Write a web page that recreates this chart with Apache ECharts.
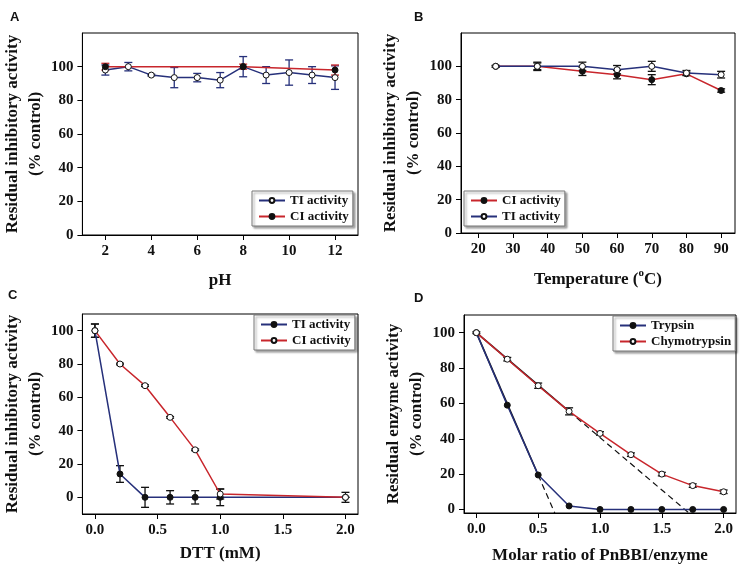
<!DOCTYPE html>
<html><head><meta charset="utf-8">
<script src="https://cdn.jsdelivr.net/npm/echarts@6/dist/echarts.min.js"></script>
<style>html,body{margin:0;padding:0;background:#fff}#c{width:746px;height:572px}</style>
</head><body><div id="c"></div>
<script>
// ---------- Panel A: pH ----------
const phX = [2, 3, 4, 5, 6, 7, 8, 9, 10, 11, 12];
const tiPH = [98, 100, 95, 93.5, 93.5, 92, 100, 95, 96.5, 95, 93.5];
const tiPHErr = [3, 2.5, 0.5, 6, 2.5, 4.5, 6, 5, 7.5, 5, 7];
const ciPHX = [2, 8, 12];
const ciPH = [100, 100, 98];
const ciPHErr = [2, 1.5, 3];
const phTicks = [2, 4, 6, 8, 10, 12];

// ---------- Panel B: Temperature ----------
const tempX = [25, 37, 50, 60, 70, 80, 90];
const tiT = [100, 100, 100, 98, 100, 96, 95];
const tiTErr = [0.5, 2, 2.5, 2.5, 3, 1.5, 2];
const ciT = [100, 100, 97, 95, 92, 95.5, 85.5];
const ciTErr = [0.5, 2.5, 2.5, 2.5, 3, 1, 1];
const tempTicks = [20, 30, 40, 50, 60, 70, 80, 90];

// ---------- Panel C: DTT ----------
const dttX = [0, 0.2, 0.4, 0.6, 0.8, 1.0, 2.0];
const tiDTT = [100, 14, 0, 0, 0, 0, 0];
const tiDTTErr = [4, 5, 6, 4, 4, 5, 0];
const ciDTT = [100, 80, 67, 48, 28.5, 2, 0];
const ciDTTErr = [4, 0.5, 0.5, 0.5, 0.5, 3, 3];
const dttTicks = [0, 0.5, 1.0, 1.5, 2.0];

// ---------- Panel D: Molar ratio ----------
const ratioX = [0, 0.25, 0.5, 0.75, 1.0, 1.25, 1.5, 1.75, 2.0];
const trypsin = [100, 59, 19.5, 2, 0, 0, 0, 0, 0];
const chymo = [100, 85, 70, 55.5, 43, 31, 20, 13.5, 10];
const chymoErr = [0.5, 1, 1.5, 2, 1, 1, 1, 1, 1];
const trypsinFitX = [0, 0.5, 0.634];
const trypsinFitY = [100, 19.5, -2];
const chymoFitX = [0, 0.75, 1.72];
const chymoFitY = [100, 55.5, -2];
const ratioTicks = [0, 0.5, 1.0, 1.5, 2.0];

const yTicks = [0, 20, 40, 60, 80, 100];

const SERIF = 'Liberation Serif';
const NAVY = '#26307a';
const RED = '#c8262c';
const BLACK = '#111';

const pts = (xs, ys) => xs.map((x, i) => [x, ys[i]]);

function errBars(xs, ys, errs, idx, color) {
  return {
    type: 'custom', xAxisIndex: idx, yAxisIndex: idx, z: 1, silent: true,
    data: xs.map((x, i) => [x, ys[i] - errs[i], ys[i] + errs[i]]),
    renderItem: function (params, api) {
      const x = api.value(0), lo = api.value(1), hi = api.value(2);
      const a = api.coord([x, hi]), b = api.coord([x, lo]);
      const w = 4;
      const st = { stroke: color, lineWidth: 1.3 };
      return {
        type: 'group', children: [
          { type: 'line', shape: { x1: a[0], y1: a[1], x2: b[0], y2: b[1] }, style: st },
          { type: 'line', shape: { x1: a[0] - w, y1: a[1], x2: a[0] + w, y2: a[1] }, style: st },
          { type: 'line', shape: { x1: b[0] - w, y1: b[1], x2: b[0] + w, y2: b[1] }, style: st }
        ]
      };
    }
  };
}

function lineSeries(name, xs, ys, idx, lineColor, open) {
  return {
    name: name, type: 'line', xAxisIndex: idx, yAxisIndex: idx, z: 3,
    data: pts(xs, ys), symbol: 'circle', symbolSize: 6,
    lineStyle: { color: lineColor, width: 1.5 },
    itemStyle: open ? { color: '#fff', borderColor: BLACK, borderWidth: 1 } : { color: BLACK, borderColor: BLACK, borderWidth: 1 },
    emphasis: { disabled: true }, animation: false
  };
}

function fitLine(xs, ys, from, to, idx, dashed) {
  return {
    type: 'line', xAxisIndex: idx, yAxisIndex: idx, z: 2, silent: true,
    data: pts(xs.slice(from, to + 1), ys.slice(from, to + 1)), symbol: 'none',
    lineStyle: { color: BLACK, width: dashed ? 1.2 : 1.6, type: dashed ? [6, 4] : 'solid' },
    animation: false
  };
}

const labelStyle = { fontFamily: SERIF, fontWeight: 'bold', fontSize: 15, color: '#111' };
const nameStyle = { fontFamily: SERIF, fontWeight: 'bold', fontSize: 17, color: '#111', lineHeight: 23 };

function xAxis(idx, min, max, ticks, fmt, name, gap, rich) {
  const ns = Object.assign({}, nameStyle);
  if (rich) ns.rich = rich;
  return {
    type: 'value', gridIndex: idx, min: min, max: max,
    axisLine: { show: true, onZero: false, lineStyle: { color: '#000', width: 1 } },
    axisTick: { show: true, inside: false, length: 5, customValues: ticks, lineStyle: { color: '#000' } },
    axisLabel: Object.assign({ customValues: ticks, margin: 9, formatter: fmt }, labelStyle),
    splitLine: { show: false },
    name: name, nameLocation: 'middle', nameGap: gap, nameTextStyle: ns
  };
}
function yAxis(idx, min, max, name, gap) {
  return {
    type: 'value', gridIndex: idx, min: min, max: max,
    axisLine: { show: true, onZero: false, lineStyle: { color: '#000', width: 1 } },
    axisTick: { show: true, inside: false, length: 5, customValues: yTicks, lineStyle: { color: '#000' } },
    axisLabel: Object.assign({ customValues: yTicks, margin: 9 }, labelStyle),
    splitLine: { show: false },
    name: name, nameLocation: 'middle', nameGap: gap, nameTextStyle: nameStyle
  };
}

function legend(left, top, names) {
  return {
    left: left, top: top, orient: 'vertical', data: names,
    formatter: n => n.split('|')[0],
    textStyle: { fontFamily: SERIF, fontWeight: 'bold', fontSize: 13, color: '#111' },
    itemWidth: 26, itemHeight: 6, itemGap: 3, padding: [3, 4, 3, 6],
    borderColor: '#777', borderWidth: 1, backgroundColor: '#fff',
    shadowColor: 'rgba(0,0,0,0.35)', shadowBlur: 2, shadowOffsetX: 2, shadowOffsetY: 2,
    selectedMode: false
  };
}

const fmtInt = v => String(v);
const fmt1 = v => v.toFixed(1);
const gridBase = { show: true, borderColor: '#000', borderWidth: 1, backgroundColor: 'transparent' };
const letterStyle = { fontFamily: 'Liberation Sans', fontWeight: 'bold', fontSize: 13, color: '#111' };

const option = {
  animation: false,
  backgroundColor: '#fff',
  title: [
    { text: 'A', left: 5, top: 6, textStyle: letterStyle },
    { text: 'B', left: 409, top: 6, textStyle: letterStyle },
    { text: 'C', left: 3, top: 284, textStyle: letterStyle },
    { text: 'D', left: 409, top: 287, textStyle: letterStyle }
  ],
  grid: [
    Object.assign({ left: 80, top: 33, width: 278, height: 202 }, gridBase),
    Object.assign({ left: 461, top: 33, width: 274, height: 200 }, gridBase),
    Object.assign({ left: 80, top: 314, width: 278, height: 200 }, gridBase),
    Object.assign({ left: 464, top: 315, width: 272, height: 198 }, gridBase)
  ],
  xAxis: [
    xAxis(0, 1, 13, phTicks, fmtInt, 'pH', 34),
    xAxis(1, 15, 94, tempTicks, fmtInt, 'Temperature ({sup|o}C)', 35,
      { sup: { fontFamily: SERIF, fontWeight: 'bold', fontSize: 11, color: '#111', verticalAlign: 'top', padding: [0, 0, 6, 0] } }),
    xAxis(2, -0.1, 2.1, dttTicks, fmt1, 'DTT (mM)', 28),
    xAxis(3, -0.1, 2.1, ratioTicks, fmt1, 'Molar ratio of PnBBI/enzyme', 31)
  ],
  yAxis: [
    yAxis(0, 0, 120, 'Residual inhibitory activity\n(% control)', 28),
    yAxis(1, 0, 120, 'Residual inhibitory activity\n(% control)', 31),
    yAxis(2, -10, 110, 'Residual inhibitory activity\n(% control)', 28),
    yAxis(3, -2, 110, 'Residual enzyme activity\n(% control)', 31)
  ],
  legend: [
    legend(252, 191, ['TI activity|A', 'CI activity|A']),
    legend(464, 191, ['CI activity|B', 'TI activity|B']),
    legend(254, 315, ['TI activity|C', 'CI activity|C']),
    legend(613, 316, ['Trypsin|D', 'Chymotrypsin|D'])
  ],
  series: [
    // A
    errBars(phX, tiPH, tiPHErr, 0, NAVY),
    errBars(ciPHX, ciPH, ciPHErr, 0, RED),
    lineSeries('TI activity|A', phX, tiPH, 0, NAVY, true),
    lineSeries('CI activity|A', ciPHX, ciPH, 0, RED, false),
    // B
    errBars(tempX, ciT, ciTErr, 1, BLACK),
    errBars(tempX, tiT, tiTErr, 1, BLACK),
    lineSeries('CI activity|B', tempX, ciT, 1, RED, false),
    lineSeries('TI activity|B', tempX, tiT, 1, NAVY, true),
    // C
    errBars(dttX, tiDTT, tiDTTErr, 2, BLACK),
    errBars(dttX, ciDTT, ciDTTErr, 2, BLACK),
    lineSeries('TI activity|C', dttX, tiDTT, 2, NAVY, false),
    lineSeries('CI activity|C', dttX, ciDTT, 2, RED, true),
    // D
    errBars(ratioX, chymo, chymoErr, 3, BLACK),
    lineSeries('Trypsin|D', ratioX, trypsin, 3, NAVY, false),
    lineSeries('Chymotrypsin|D', ratioX, chymo, 3, RED, true),
    fitLine(trypsinFitX, trypsinFitY, 0, 1, 3, false),
    fitLine(trypsinFitX, trypsinFitY, 1, 2, 3, true),
    fitLine(chymoFitX, chymoFitY, 0, 1, 3, false),
    fitLine(chymoFitX, chymoFitY, 1, 2, 3, true)
  ]
};

const chart = echarts.init(document.getElementById('c'), null, { renderer: 'canvas' });
chart.setOption(option);
</script>
</body></html>
